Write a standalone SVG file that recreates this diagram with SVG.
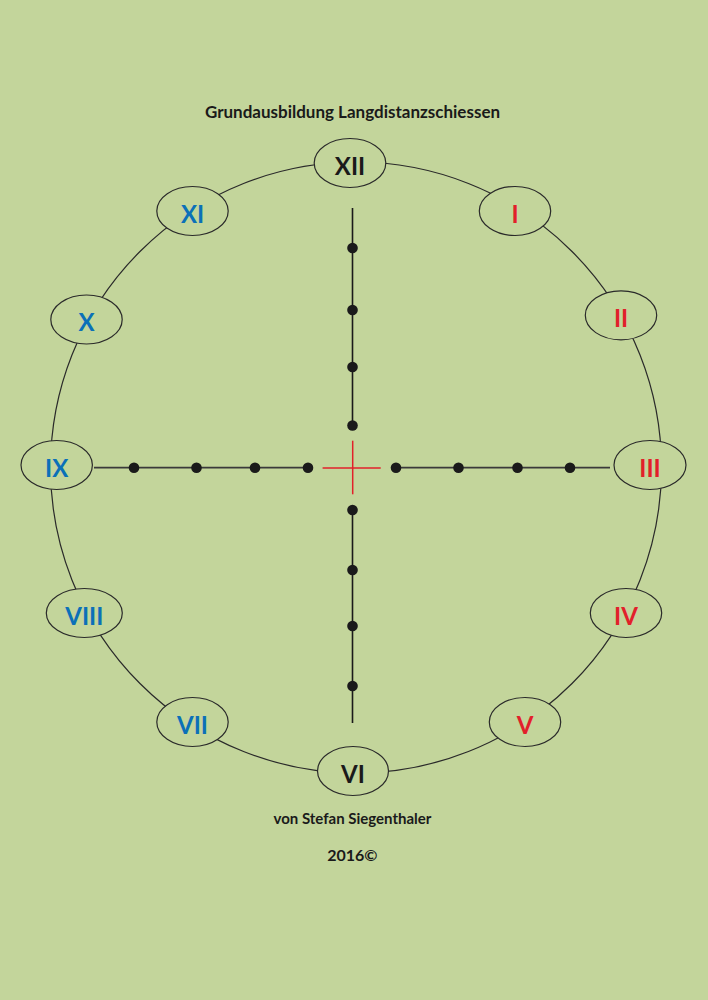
<svg xmlns="http://www.w3.org/2000/svg" width="708" height="1000" viewBox="0 0 708 1000">
<style>
.node ellipse{fill:#C3D59B;stroke:#2a2a2a;stroke-width:1.2}
.lbl{font-family:Lato,"Open Sans","Liberation Sans",sans-serif;font-weight:700;font-size:24px;text-anchor:middle}
.red{fill:#E2202A}
.blue{fill:#0B70B8}
.blk{fill:#1a1a1a}
.txt{font-family:Lato,"Open Sans","Liberation Sans",sans-serif;font-weight:700;fill:#1a1a1a;text-anchor:middle}
.dot{fill:#1a1a1a}
</style>
<rect x="0" y="0" width="708" height="1000" fill="#C3D59B"/>
<text class="txt" x="352.5" y="118" font-size="17">Grundausbildung Langdistanzschiessen</text>
<g id="connectors">
<circle cx="356" cy="467.5" r="305.5" fill="none" stroke="#2a2a2a" stroke-width="1.2"/>
<line x1="94" y1="467.7" x2="308" y2="467.7" stroke="#3a3a3a" stroke-width="1.8"/>
<line x1="396" y1="467.7" x2="610" y2="467.7" stroke="#3a3a3a" stroke-width="1.8"/>
<line x1="352.5" y1="208" x2="352.5" y2="426" stroke="#1a1a1a" stroke-width="1.6"/>
<line x1="352.5" y1="510" x2="352.5" y2="723" stroke="#1a1a1a" stroke-width="1.6"/>
</g>
<g id="crosshair">
<line x1="322.6" y1="468" x2="380.7" y2="468" stroke="#E2202A" stroke-width="1.5"/>
<line x1="352.7" y1="440.7" x2="352.7" y2="494.3" stroke="#E2202A" stroke-width="1.5"/>
</g>
<g id="dots">
<circle class="dot" cx="134" cy="467.7" r="5.3"/>
<circle class="dot" cx="196.5" cy="467.7" r="5.3"/>
<circle class="dot" cx="255" cy="467.7" r="5.3"/>
<circle class="dot" cx="308" cy="467.7" r="5.3"/>
<circle class="dot" cx="396" cy="467.7" r="5.3"/>
<circle class="dot" cx="458.5" cy="467.7" r="5.3"/>
<circle class="dot" cx="517.5" cy="467.7" r="5.3"/>
<circle class="dot" cx="570" cy="467.7" r="5.3"/>
<circle class="dot" cx="352.5" cy="248" r="5.3"/>
<circle class="dot" cx="352.5" cy="310" r="5.3"/>
<circle class="dot" cx="352.5" cy="367" r="5.3"/>
<circle class="dot" cx="352.5" cy="425.5" r="5.3"/>
<circle class="dot" cx="352.5" cy="510" r="5.3"/>
<circle class="dot" cx="352.5" cy="570" r="5.3"/>
<circle class="dot" cx="352.5" cy="626" r="5.3"/>
<circle class="dot" cx="352.5" cy="686" r="5.3"/>
</g>
<g id="node-XII" class="node"><ellipse cx="350" cy="163" rx="35.8" ry="24.5"/><text class="lbl blk" x="350" y="174.5">XII</text></g>
<g id="node-I" class="node"><ellipse cx="515" cy="211" rx="35.7" ry="24.5"/><text class="lbl red" x="515" y="222.5">I</text></g>
<g id="node-II" class="node"><ellipse cx="621" cy="315.3" rx="35.7" ry="24.5"/><text class="lbl red" x="621" y="326.8">II</text></g>
<g id="node-III" class="node"><ellipse cx="650" cy="465" rx="36" ry="24.5"/><text class="lbl red" x="650" y="476.5">III</text></g>
<g id="node-IV" class="node"><ellipse cx="626" cy="613" rx="35.7" ry="24.5"/><text class="lbl red" x="626" y="624.5">IV</text></g>
<g id="node-V" class="node"><ellipse cx="525" cy="722" rx="35.7" ry="24.5"/><text class="lbl red" x="525" y="733.5">V</text></g>
<g id="node-VI" class="node"><ellipse cx="353" cy="771" rx="35.5" ry="24.5"/><text class="lbl blk" x="353" y="782.5">VI</text></g>
<g id="node-VII" class="node"><ellipse cx="192.5" cy="722" rx="35.7" ry="24.5"/><text class="lbl blue" x="192.5" y="733.5">VII</text></g>
<g id="node-VIII" class="node"><ellipse cx="84.3" cy="613" rx="38" ry="24.5"/><text class="lbl blue" x="84.3" y="624.5">VIII</text></g>
<g id="node-IX" class="node"><ellipse cx="56.7" cy="465" rx="35.7" ry="24.5"/><text class="lbl blue" x="56.7" y="476.5">IX</text></g>
<g id="node-X" class="node"><ellipse cx="86.5" cy="319.5" rx="35.7" ry="24.5"/><text class="lbl blue" x="86.5" y="331">X</text></g>
<g id="node-XI" class="node"><ellipse cx="192.5" cy="211" rx="35.7" ry="24.5"/><text class="lbl blue" x="192.5" y="222.5">XI</text></g>
<text class="txt" x="352.5" y="824.3" font-size="15">von Stefan Siegenthaler</text>
<text class="txt" x="352.3" y="860.7" font-size="16">2016©</text>
</svg>
